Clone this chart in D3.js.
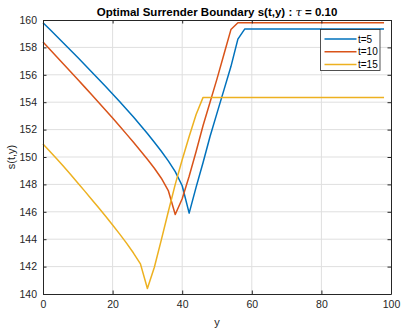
<!DOCTYPE html>
<html>
<head>
<meta charset="utf-8">
<script src="https://cdn.jsdelivr.net/npm/d3@7"></script>
<style>
  body { margin: 0; background: #fff; }
  text { font-family: "Liberation Sans", Arial, sans-serif; }
</style>
</head>
<body>
<div id="chart"></div>
<script>
// y grid (x axis) values
var yGrid = d3.range(0, 100, 2);

var s5 = [159.8, 159.3, 158.8, 158.29, 157.78, 157.26, 156.74, 156.21, 155.68, 155.14,
          154.6, 154.05, 153.49, 152.92, 152.32, 151.72, 151.08, 150.42, 149.72, 148.93,
          147.9, 145.9, 147.8, 149.6, 151.5, 153.2, 154.9, 156.6, 158.6, 159.35,
          159.35, 159.35, 159.35, 159.35, 159.35, 159.35, 159.35, 159.35, 159.35, 159.35,
          159.35, 159.35, 159.35, 159.35, 159.35, 159.35, 159.35, 159.35, 159.35, 159.35];

var s10 = [158.4, 157.85, 157.3, 156.75, 156.2, 155.65, 155.1, 154.54, 153.98, 153.41,
           152.84, 152.26, 151.67, 151.07, 150.46, 149.83, 149.18, 148.45, 147.55, 145.8,
           146.95, 148.6, 150.4, 152.3, 154.0, 155.7, 157.5, 159.3, 159.8, 159.8,
           159.8, 159.8, 159.8, 159.8, 159.8, 159.8, 159.8, 159.8, 159.8, 159.8,
           159.8, 159.8, 159.8, 159.8, 159.8, 159.8, 159.8, 159.8, 159.8, 159.8];

var s15 = [150.95, 150.4, 149.85, 149.28, 148.7, 148.11, 147.51, 146.9, 146.29, 145.67,
           145.04, 144.39, 143.71, 142.99, 142.2, 140.4, 141.95, 143.95, 146.0, 148.0,
           149.8, 151.5, 153.1, 154.35, 154.35, 154.35, 154.35, 154.35, 154.35, 154.35,
           154.35, 154.35, 154.35, 154.35, 154.35, 154.35, 154.35, 154.35, 154.35, 154.35,
           154.35, 154.35, 154.35, 154.35, 154.35, 154.35, 154.35, 154.35, 154.35, 154.35];

var seriesNames = ['t=5', 't=10', 't=15'];
var seriesColors = ['#0072BD', '#D95319', '#EDB120'];
var xTicks = [0, 20, 40, 60, 80, 100];
var yTicks = [140, 142, 144, 146, 148, 150, 152, 154, 156, 158, 160];

var W = 401, H = 329;
var pLeft = 43, pRight = 391, pTop = 20, pBottom = 294;

var svg = d3.select('#chart').append('svg')
  .attr('width', W).attr('height', H);

var x = d3.scaleLinear().domain([0, 100]).range([pLeft, pRight]);
var y = d3.scaleLinear().domain([140, 160]).range([pBottom, pTop]);

// grid
svg.append('g').selectAll('line').data(xTicks.slice(1, -1)).enter().append('line')
  .attr('x1', d => x(d)).attr('x2', d => x(d))
  .attr('y1', pTop).attr('y2', pBottom)
  .attr('stroke', '#dfdfdf').attr('stroke-width', 1);
svg.append('g').selectAll('line').data(yTicks.slice(1, -1)).enter().append('line')
  .attr('x1', pLeft).attr('x2', pRight)
  .attr('y1', d => y(d)).attr('y2', d => y(d))
  .attr('stroke', '#dfdfdf').attr('stroke-width', 1);

// lines
var data = [s5, s10, s15];
var line = d3.line()
  .x(function(d, i) { return x(yGrid[i]); })
  .y(function(d) { return y(d); });

svg.append('g').selectAll('path').data(data).enter().append('path')
  .attr('d', d => line(d))
  .attr('fill', 'none')
  .attr('stroke', (d, i) => seriesColors[i])
  .attr('stroke-width', 1.5)
  .attr('stroke-linejoin', 'round');

// axes (inward ticks, box)
var axisColor = '#262626';
var bottomAxis = d3.axisBottom(x).tickValues(xTicks).tickSizeInner(-3.5).tickSizeOuter(0).tickPadding(7);
var leftAxis = d3.axisLeft(y).tickValues(yTicks).tickSizeInner(-3.5).tickSizeOuter(0).tickPadding(6);
var topAxis = d3.axisTop(x).tickValues(xTicks).tickSizeInner(-3.5).tickSizeOuter(0).tickFormat('');
var rightAxis = d3.axisRight(y).tickValues(yTicks).tickSizeInner(-3.5).tickSizeOuter(0).tickFormat('');

function styleAxis(g) {
  g.selectAll('path').attr('stroke', axisColor).attr('stroke-width', 1);
  g.selectAll('line').attr('stroke', axisColor);
  g.selectAll('text').attr('fill', axisColor).style('font-size', '10.5px')
    .style('font-family', '"Liberation Sans", Arial, sans-serif');
}

svg.append('g').attr('transform', 'translate(0,' + pBottom + ')').call(bottomAxis).call(styleAxis);
svg.append('g').attr('transform', 'translate(' + pLeft + ',0)').call(leftAxis).call(styleAxis);
svg.append('g').attr('transform', 'translate(0,' + pTop + ')').call(topAxis).call(styleAxis);
svg.append('g').attr('transform', 'translate(' + pRight + ',0)').call(rightAxis).call(styleAxis);

// title
var title = svg.append('text')
  .attr('x', (pLeft + pRight) / 2).attr('y', 16)
  .attr('text-anchor', 'middle')
  .attr('font-weight', 'bold').attr('font-size', '11.5px')
  .attr('fill', '#000');
title.append('tspan').text('Optimal Surrender Boundary s(t,y) : ');
title.append('tspan').attr('font-style', 'italic').attr('font-weight', 'normal')
  .attr('font-family', '"DejaVu Serif", serif').text('τ');
title.append('tspan').text(' = 0.10');

// axis labels
svg.append('text')
  .attr('x', (pLeft + pRight) / 2).attr('y', 326)
  .attr('text-anchor', 'middle').attr('font-size', '11px').attr('fill', axisColor)
  .text('y');
svg.append('text')
  .attr('transform', 'translate(15,' + ((pTop + pBottom) / 2) + ') rotate(-90)')
  .attr('text-anchor', 'middle').attr('font-size', '11px').attr('fill', axisColor)
  .text('s(t,y)');

// legend
var lg = svg.append('g').attr('transform', 'translate(320.5,29.5)');
lg.append('rect').attr('width', 59.5).attr('height', 41)
  .attr('fill', '#fff').attr('stroke', axisColor).attr('stroke-width', 0.8);
var items = lg.selectAll('g').data(seriesNames).enter().append('g')
  .attr('transform', (d, i) => 'translate(0,' + (9.5 + i * 12.8) + ')');
items.append('line').attr('x1', 4).attr('x2', 36).attr('y1', 0).attr('y2', 0)
  .attr('stroke', (d, i) => seriesColors[i]).attr('stroke-width', 1.5);
items.append('text').attr('x', 37.5).attr('y', 3.5)
  .attr('font-size', '10px').attr('fill', '#000')
  .text(d => d);
</script>
</body>
</html>
